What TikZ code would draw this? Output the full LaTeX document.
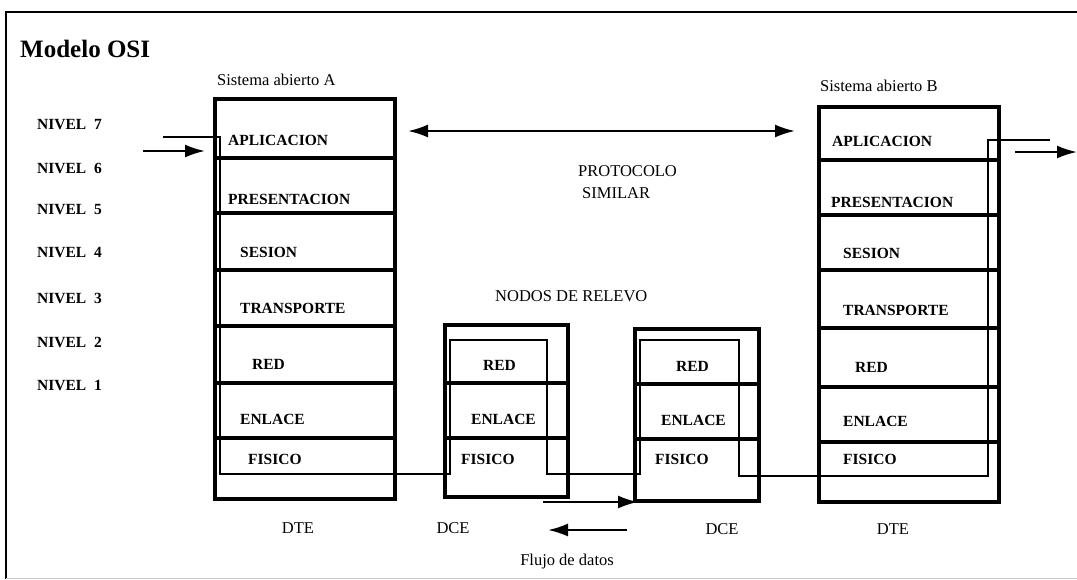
\documentclass[tikz,border=0pt]{standalone}
\usepackage{fontspec}
\setmainfont{Liberation Serif}
\usetikzlibrary{arrows.meta, positioning}
\tikzset{
    stackbox/.style={rectangle, draw=black, line width=3.5pt, inner sep=0pt, anchor=north west},
    divider/.style={draw=black, line width=3.5pt},
    flowline/.style={draw=black, line width=1.6pt},
    layer/.style={anchor=west, inner sep=0pt, font=\fontsize{15.5}{17}\selectfont\bfseries},
    level/.style={anchor=west, inner sep=0pt, font=\fontsize{15.5}{17}\selectfont\bfseries},
    caption/.style={inner sep=0pt, font=\fontsize{16.5}{18}\selectfont},
    arrowline/.style={draw, -{Latex[length=20pt, width=13pt]}, line width=2.2pt},
    frameline/.style={draw=black, line width=1.8pt}
}

\begin{document}
\begin{tikzpicture}[x=1pt, y=-1pt]
    \useasboundingbox (0,0) rectangle (1077,579);

    % Frame
    \draw [frameline] (6,579) -- (6,12) -- (1077,12);
    \draw [gray!40, line width=1pt] (6,578) -- (1077,578);

    % Title and levels
    \node [anchor=west, inner sep=0pt, font=\fontsize{25}{28}\selectfont\bfseries] (title) at (20,49) {Modelo OSI};
    \foreach \n/\y in {7/125, 6/168, 5/210, 4/253, 3/298, 2/342, 1/385}
        \node [level] (nivel\n) at (37,\y) {NIVEL~~\n};

    % Sistema abierto A
    \node [stackbox, minimum width=180pt, minimum height=400pt] (sysA) at (213,97) {};
    \node [caption, anchor=west] (sysAlabel) at (217,80) {Sistema abierto A};
    \foreach \y in {158, 213, 270, 326, 383, 438}
        \draw [divider] (213,\y) -- (393,\y);
    \node [layer] (aplA) at (228,140) {APLICACION};
    \node [layer] (preA) at (228,199) {PRESENTACION};
    \node [layer] (sesA) at (240,252) {SESION};
    \node [layer] (traA) at (240,308) {TRANSPORTE};
    \node [layer] (redA) at (252,364) {RED};
    \node [layer] (enlA) at (240,419) {ENLACE};
    \node [layer] (fisA) at (248,459) {FISICO};
    \node [caption] (dteA) at (298,528) {DTE};

    % Nodos de relevo
    \node [caption, anchor=west] (relevo) at (495,296) {NODOS DE RELEVO};

    \node [stackbox, minimum width=123pt, minimum height=172pt] (dceA) at (443,323) {};
    \foreach \y in {383, 438}
        \draw [divider] (443,\y) -- (566,\y);
    \node [layer] (redC) at (483,365) {RED};
    \node [layer] (enlC) at (471,419) {ENLACE};
    \node [layer] (fisC) at (461,459) {FISICO};
    \node [caption] (dceAlabel) at (453,528) {DCE};

    \node [stackbox, minimum width=124pt, minimum height=172pt] (dceB) at (633,327) {};
    \foreach \y in {384, 439}
        \draw [divider] (633,\y) -- (757,\y);
    \node [layer] (redD) at (676,366) {RED};
    \node [layer] (enlD) at (661,420) {ENLACE};
    \node [layer] (fisD) at (655,459) {FISICO};
    \node [caption] (dceBlabel) at (722,529) {DCE};

    % Sistema abierto B
    \node [stackbox, minimum width=180pt, minimum height=395pt] (sysB) at (817,105) {};
    \node [caption, anchor=west] (sysBlabel) at (820,86) {Sistema abierto B};
    \foreach \y in {160, 215, 270, 328, 387, 442}
        \draw [divider] (817,\y) -- (997,\y);
    \node [layer] (aplB) at (832,141) {APLICACION};
    \node [layer] (preB) at (831,202) {PRESENTACION};
    \node [layer] (sesB) at (843,253) {SESION};
    \node [layer] (traB) at (843,310) {TRANSPORTE};
    \node [layer] (redB) at (855,367) {RED};
    \node [layer] (enlB) at (843,421) {ENLACE};
    \node [layer] (fisB) at (843,459) {FISICO};
    \node [caption] (dteB) at (893,529) {DTE};

    % Protocolo similar
    \coordinate (protA) at (408,131);
    \coordinate (protB) at (795,131);
    \draw [arrowline, {Latex[length=20pt, width=13pt]}-{Latex[length=20pt, width=13pt]}] (protA) -- (protB);
    \node [caption, anchor=west] (protocolo) at (578,171) {PROTOCOLO};
    \node [caption, anchor=west] (similar) at (582,193) {SIMILAR};

    % Data path
    \coordinate (pathin) at (163,137);
    \coordinate (pathout) at (1050,140);
    \draw [flowline] (pathin) -- (220,137) -- (220,474) -- (450,474) -- (450,340)
        -- (547,340) -- (547,474) -- (640,474) -- (640,340) -- (739,340)
        -- (739,476) -- (988,476) -- (988,140) -- (pathout);

    % Entrada / salida
    \coordinate (inTail) at (143,151);
    \coordinate (inHead) at (205,151);
    \coordinate (outTail) at (1015,152);
    \coordinate (outHead) at (1077,152);
    \draw [arrowline] (inTail) -- (inHead);
    \draw [arrowline] (outTail) -- (outHead);

    % Flujo de datos
    \coordinate (fwdTail) at (543,502);
    \coordinate (fwdHead) at (638,502);
    \coordinate (bwdTail) at (627,530);
    \coordinate (bwdHead) at (548,530);
    \draw [arrowline] (fwdTail) -- (fwdHead);
    \draw [arrowline] (bwdTail) -- (bwdHead);
    \node [caption] (flujo) at (567,562) {Flujo de datos};

\end{tikzpicture}
\end{document}
